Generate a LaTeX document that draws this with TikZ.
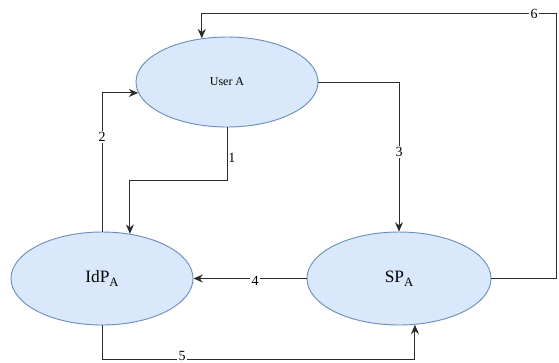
\documentclass[tikz,border=0pt]{standalone}
\usepackage{fontspec}
\setmainfont{Liberation Serif}
\usetikzlibrary{arrows.meta,shapes.geometric}
\definecolor{nodefill}{HTML}{DAE8FC}
\definecolor{nodeline}{HTML}{6C8EBF}
\definecolor{wire}{HTML}{2B2B2B}
\newcommand{\subA}{\raisebox{-3.2pt}{\fontsize{9.5}{9.5}\selectfont A}}
\begin{document}
\begin{tikzpicture}[x=0.75pt,y=-0.75pt,
  actor/.style={ellipse, draw=nodeline, fill=nodefill, line width=0.7pt, inner sep=0pt},
  flow/.style={draw=wire, line width=0.75pt, -{Stealth[length=7pt,width=6pt]}},
  tag/.style={fill=white, inner sep=1pt, font=\fontsize{10.5}{12}\selectfont}]
\useasboundingbox (0,0) rectangle (559,362);

% the three parties
\node[actor, minimum width=136.5pt, minimum height=67.5pt, font=\fontsize{9}{10}\selectfont]
  (user) at (227,82) {User A};
\node[actor, minimum width=136.5pt, minimum height=69.75pt, font=\fontsize{13}{14}\selectfont]
  (idp) at (102,278.5) {IdP\subA};
\node[actor, minimum width=138pt, minimum height=69.75pt, font=\fontsize{13}{14}\selectfont]
  (sp) at (399,278.5) {SP\subA};

% bend points of the longer routes
\coordinate (b1) at (227,180.5);
\coordinate (b5) at (102,359);
\coordinate (b6) at (556,13.5);

% message flows
\draw[flow] (user.south) -- (b1) -| (idp.58.7);
\node[tag, fill=none, anchor=west, inner sep=0.5pt] (l1) at (227.5,158) {1};

\draw[flow] (idp.north) |- (user.187.1);
\node[tag] (l2) at (102,137) {2};

\draw[flow] (user.east) -| (sp.north);
\node[tag] (l3) at (399,152) {3};

\draw[flow] (sp.west) -- (idp.east);
\node[tag] (l4) at (255,281) {4};

\draw[flow] (idp.south) -- (b5) -| (sp.289.3);
\node[tag] (l5) at (182,355.5) {5};

\draw[flow] (sp.east) -| (b6) -| (user.120);
\node[tag] (l6) at (534,14) {6};
\end{tikzpicture}
\end{document}
